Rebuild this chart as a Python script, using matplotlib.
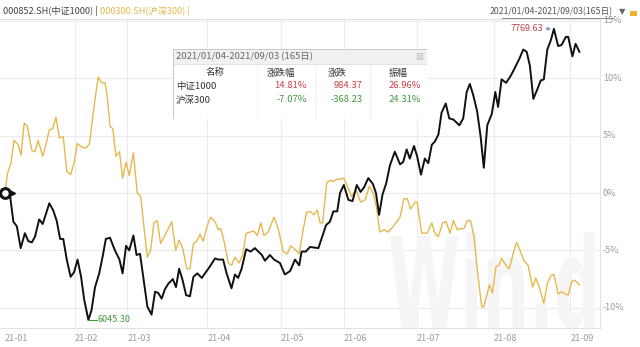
import matplotlib
matplotlib.use("Agg")
import matplotlib.pyplot as plt
from matplotlib.patches import Rectangle, PathPatch
from matplotlib.textpath import TextPath
from matplotlib.font_manager import FontProperties
from matplotlib.transforms import Affine2D, IdentityTransform

plt.rcParams['font.family'] = ['Noto Sans CJK SC', 'DejaVu Sans']

# ---- data (trading-day index, % change) ----
csi1000_day = [0.0, 1.4, 2.4, 3.4, 4.5, 5.7, 6.7, 7.7, 8.6, 9.8, 10.8, 12.7, 13.8, 14.8, 15.8, 16.7,
               17.7, 18.8, 19.8, 20.8, 21.8, 22.7, 23.9, 24.8, 25.8, 27.0, 28.0, 28.9, 30.1, 31.5, 32.8,
               33.7, 34.7, 35.6, 36.8, 37.7, 38.7, 39.6, 40.8, 42.0, 43.0, 43.9, 44.9, 45.8, 46.8, 48.1,
               49.0, 49.9, 50.9, 51.9, 53.0, 54.0, 55.1, 56.4, 57.3, 58.5, 60.2, 61.1, 62.5, 63.5, 64.9,
               65.9, 66.8, 67.8, 69.1, 70.4, 71.6, 73.6, 74.5, 75.9, 77.1, 78.8, 80.2, 81.7, 83.1, 84.3,
               85.0, 86.2, 87.4, 89.8, 91.0, 92.0, 93.1, 94.1, 95.2, 96.0, 97.1, 98.4, 99.6, 100.8, 101.9,
               102.9, 104.1, 105.4, 106.3, 107.2, 108.2, 109.2, 110.3, 111.7, 113.2, 114.1, 115.1, 116.0,
               117.2, 118.1, 119.2, 120.3, 121.3, 122.3, 123.2, 124.2, 125.1, 126.3, 127.3, 128.5, 130.2,
               131.3, 132.3, 133.2, 134.2, 135.3, 136.3, 137.2, 138.2, 139.5, 140.5, 141.3, 142.3, 143.6,
               144.9, 146.1, 147.4, 148.5, 149.5, 150.4, 151.4, 152.5, 153.5, 154.4, 155.4, 156.4, 157.3,
               158.5, 159.5, 160.7, 161.4, 162.6, 163.5, 164.6]
csi1000_pct = [0.0, -0.1, -2.5, -2.9, -4.8, -3.5, -4.2, -4.3, -3.8, -2.3, -2.7, -0.9, -1.5, -2.4, -4.0, -4.0,
               -5.8, -7.3, -6.9, -5.8, -7.3, -9.3, -11.06, -10.2, -8.2, -7.0, -5.5, -4.0, -3.9, -5.0, -5.8,
               -7.0, -4.6, -5.0, -3.7, -5.4, -5.3, -7.3, -9.9, -10.6, -8.6, -8.7, -9.2, -8.4, -7.9, -7.5,
               -8.2, -6.6, -7.6, -8.9, -9.0, -7.3, -7.0, -7.4, -7.0, -6.5, -5.7, -5.8, -5.8, -7.0, -8.3,
               -7.1, -7.4, -6.6, -4.9, -5.1, -4.8, -5.4, -5.9, -5.4, -5.8, -6.1, -7.1, -6.8, -5.8, -6.3,
               -5.1, -5.1, -4.7, -4.8, -3.7, -2.8, -2.5, -1.6, -1.6, 0.0, 0.7, -0.6, -0.7, 0.7, 0.1,
               0.5, 1.3, 0.8, 0.0, -1.9, -0.1, 0.8, 2.4, 3.6, 2.5, 2.7, 3.8, 3.0,
               4.1, 3.2, 1.6, 3.0, 2.6, 4.2, 4.5, 5.1, 7.0, 7.8, 6.5, 6.4, 5.9,
               6.5, 8.8, 9.5, 8.5, 7.1, 4.9, 2.2, 5.9, 6.9, 8.8, 7.5, 9.9, 9.6,
               10.2, 10.9, 11.7, 12.5, 12.3, 11.1, 8.2, 9.0, 9.8, 9.9, 12.5, 13.3, 14.3,
               12.8, 12.9, 13.6, 13.6, 11.9, 13.0, 12.3]

hs300_day = [0.0, 0.7, 1.7, 2.6, 3.8, 4.6, 5.5, 6.4, 7.7, 8.6, 9.5, 10.8, 11.7, 12.7, 13.7, 14.6, 15.6,
             16.7, 17.7, 18.8, 19.8, 20.7, 22.0, 23.2, 24.2, 25.5, 26.7, 27.7, 28.7, 29.3, 30.1, 30.9,
             31.8, 32.8, 33.7, 34.7, 35.6, 36.8, 37.9, 38.9, 39.8, 40.8, 41.7, 42.7, 43.6, 44.6, 45.8,
             46.8, 47.8, 48.9, 49.9, 50.9, 52.1, 53.0, 54.0, 54.9, 55.9, 56.8, 57.8, 58.9, 60.2, 61.1,
             61.8, 62.7, 64.0, 64.9, 65.9, 67.1, 68.1, 69.1, 70.2, 71.3, 72.3, 73.3, 74.2, 75.4, 77.1,
             78.3, 79.7, 80.9, 81.9, 83.1, 84.3, 85.5, 86.4, 87.4, 88.5, 89.5, 90.3, 91.0, 92.2, 93.1,
             94.1, 95.0, 96.0, 97.1, 98.1, 99.3, 100.6, 101.9, 103.2, 104.4, 105.5, 106.5, 107.4, 108.6,
             109.8, 111.3, 113.2, 114.3, 115.3, 116.2, 117.5, 118.1, 119.4, 121.0, 122.3, 123.2, 124.2,
             125.4, 126.4, 127.5, 128.5, 129.6, 130.6, 131.5, 132.5, 133.4, 134.4, 135.3, 136.6, 137.2,
             138.0, 138.8, 139.7, 140.7, 141.6, 142.3, 143.3, 144.5, 145.6, 146.6, 147.6, 148.7, 149.9,
             151.2, 152.1, 153.1, 154.4, 155.4, 156.4, 157.3, 158.5, 159.5, 160.5, 161.4, 162.4, 163.3,
             164.6]
hs300_pct = [0.0, 1.7, 2.6, 4.6, 4.2, 3.3, 6.1, 5.8, 3.7, 3.6, 4.6, 3.2, 4.2, 5.5, 5.6, 6.6, 4.8,
             4.9, 1.9, 1.6, 2.6, 4.3, 4.0, 3.9, 4.3, 7.5, 10.1, 9.6, 9.6, 8.4, 5.8, 5.6,
             3.2, 3.6, 1.3, 2.7, 1.5, 3.5, 0.0, -0.3, -2.9, -5.6, -5.0, -2.6, -2.4, -4.4, -3.7,
             -3.1, -2.5, -5.0, -4.1, -4.8, -6.6, -6.6, -4.4, -4.2, -3.6, -4.2, -3.0, -2.1, -2.5, -3.2,
             -3.1, -4.1, -6.1, -6.3, -5.6, -6.1, -5.4, -3.5, -3.4, -3.3, -3.7, -2.6, -3.7, -3.4, -2.1,
             -3.1, -5.1, -5.3, -4.6, -4.9, -5.3, -3.1, -1.7, -1.6, -1.9, -1.5, -2.6, -2.6, 0.9, 1.1,
             1.0, 1.2, 1.2, 1.3, 0.6, -0.3, 0.3, -0.8, -0.6, 0.6, 0.0, -1.3, -3.4, -3.2,
             -3.4, -2.9, -2.1, -0.5, -0.5, -1.4, -0.8, -0.8, -3.5, -3.5, -2.6, -3.5, -3.8,
             -2.6, -2.5, -3.5, -2.4, -3.2, -3.1, -3.1, -2.4, -2.4, -3.8, -6.6, -9.9, -9.9,
             -9.0, -8.0, -8.7, -6.4, -6.3, -5.7, -6.2, -6.6, -5.3, -4.3, -5.0, -5.9, -6.3,
             -8.2, -7.4, -8.2, -9.6, -7.9, -7.2, -7.1, -8.8, -8.6, -8.8, -8.9, -7.7, -7.6,
             -8.0]

month_labels = ["21-01", "21-02", "21-03", "21-04", "21-05", "21-06", "21-07", "21-08", "21-09"]
month_start_idx = [0, 20, 35, 58, 79, 97, 118, 140, 162]
y_ticks = [15, 10, 5, 0, -5, -10]

max_label = "7769.63"
min_label = "6045.30"
table_header = ["名称", "涨跌幅", "涨跌", "振幅"]
table_names = ["中证1000", "沪深300"]
table_chg_pct = ["14.81%", "-7.07%"]
table_chg = ["984.37", "-368.23"]
table_amp = ["26.96%", "24.31%"]
period_text = "2021/01/04-2021/09/03(165日)"

BLACK = "#111111"
GOLD = "#E6B84E"
RED = "#C8414B"
GREEN = "#3E9A3E"
TICK = "#9a9a9a"
GRID = "#ebebeb"

W, H = 640, 347
fig = plt.figure(figsize=(W / 100, H / 100), dpi=100)
fig.patch.set_facecolor("white")


def fx(px):
    return px / W


def fy(py):
    return 1 - py / H


ax = fig.add_axes([0, fy(328), fx(600), fy(19) - fy(328)])
ax.set_xlim(-1.43, 170.5)
ax.set_ylim(-11.76, 15.16)
ax.spines["left"].set_visible(False)
for s in ["top", "right", "bottom"]:
    ax.spines[s].set_color("#e2e2e2")
    ax.spines[s].set_linewidth(0.8)
ax.set_xticks([])
ax.set_yticks([])

for v in y_ticks:
    ax.axhline(v, color=GRID, lw=0.8, zorder=0)
    ax.text(1.005, v, f"{v}%", transform=ax.get_yaxis_transform(), ha="left", va="center",
            fontsize=6.5, color=TICK)
for i, (lab, idx) in enumerate(zip(month_labels, month_start_idx)):
    if i > 0:
        ax.axvline(idx, color=GRID, lw=0.8, zorder=0)
    ax.text(idx, -0.02, lab, transform=ax.get_xaxis_transform(), ha="left", va="top",
            fontsize=6.5, color=TICK)

# watermark
tp = TextPath((0, 0), "Win.d", size=100, prop=FontProperties(family="DejaVu Sans", weight="bold"))
ext = tp.get_extents()
sx = 205 / ext.width
sy = 98 / ext.height
tr = Affine2D().translate(-ext.x0, -ext.y0).scale(sx, sy).translate(390, H - 330)
wm = PathPatch(tr.transform_path(tp), facecolor="#f5f5f5", edgecolor="none",
               transform=IdentityTransform(), zorder=0.5)
ax.add_artist(wm)

ax.plot(hs300_day, hs300_pct, color=GOLD, lw=1.0, zorder=2)
ax.plot(csi1000_day, csi1000_pct, color=BLACK, lw=1.4, zorder=3)
ax.plot([0], [0], marker="o", ms=7, mfc="white", mec=BLACK, mew=2.2, zorder=4, clip_on=False)
ax.plot([2.1], [0], marker=">", ms=4, color=BLACK, zorder=4)

# max / min annotations
imax = csi1000_pct.index(max(csi1000_pct))
imin = csi1000_pct.index(min(csi1000_pct))
xmax, ymax = csi1000_day[imax], csi1000_pct[imax]
xmin, ymin = csi1000_day[imin], csi1000_pct[imin]
ax.annotate("", xy=(xmax, ymax), xytext=(xmax - 3.0, ymax),
            arrowprops=dict(arrowstyle="-|>", color="#7f9fbf", lw=0.8, mutation_scale=5), zorder=5)
ax.text(xmax - 3.1, ymax, max_label, ha="right", va="center", fontsize=6.5, color=RED)
ax.plot([xmin, xmin + 2.6], [ymin, ymin], color=GREEN, lw=0.8, zorder=5)
ax.text(xmin + 2.7, ymin, min_label, ha="left", va="center", fontsize=6.5, color=GREEN)

# header
t1 = fig.text(fx(3), fy(11), "000852.SH(中证1000) | ", ha="left", va="center", fontsize=6.6,
              color="#444444")
renderer = fig.canvas.get_renderer()
bb = t1.get_window_extent(renderer=renderer)
fig.text(bb.x1 / W, fy(11), "000300.SH(沪深300) |", ha="left", va="center", fontsize=6.6, color=GOLD)
fig.text(fx(613), fy(12), period_text, ha="right", va="center", fontsize=6.3, color="#555555")
fig.add_artist(plt.Line2D([fx(502), fx(613)], [fy(18), fy(18)], color="#777777", lw=0.6))
fig.text(fx(622), fy(12), "▼", ha="center", va="center", fontsize=6, color="#666666",
         family=["DejaVu Sans"])
fig.add_artist(Rectangle((fx(630), fy(16)), fx(7), 5 / H, facecolor="#F0B030", edgecolor="none"))

# info box
bax = fig.add_axes([fx(173), fy(119), fx(254), 70 / H], zorder=10)
bax.set_xlim(0, 254)
bax.set_ylim(70, 0)
bax.axis("off")
bax.add_patch(Rectangle((0, 0), 254, 70, facecolor="white", edgecolor="#c9c9c9", lw=0.8))
bax.add_patch(Rectangle((0.5, 0.5), 253, 14, facecolor="#f1f1f1", edgecolor="none"))
bax.plot([0, 254], [14.5, 14.5], color="#dddddd", lw=0.6)
for cx in [84, 142, 197]:
    bax.plot([cx, cx], [15, 70], color="#f0f0f0", lw=0.6)
bax.text(3, 7.5, "2021/01/04-2021/09/03 (165日)", ha="left", va="center", fontsize=6.8, color="#666666")
bax.text(246, 7.5, "⊠", ha="center", va="center", fontsize=7, color="#bbbbbb", family=["DejaVu Sans"])
for cx, lab in zip([42, 108, 164, 225], table_header):
    bax.text(cx, 24, lab, ha="center", va="center", fontsize=6.8, color="#333333")
row_y = [37, 51]
for r in range(2):
    col = RED if r == 0 else GREEN
    bax.text(3, row_y[r], table_names[r], ha="left", va="center", fontsize=6.8, color="#333333")
    bax.text(134, row_y[r], table_chg_pct[r], ha="right", va="center", fontsize=6.8, color=col)
    bax.text(190, row_y[r], table_chg[r], ha="right", va="center", fontsize=6.8, color=col)
    bax.text(248, row_y[r], table_amp[r], ha="right", va="center", fontsize=6.8, color=col)

fig.savefig("out.png", dpi=100)
